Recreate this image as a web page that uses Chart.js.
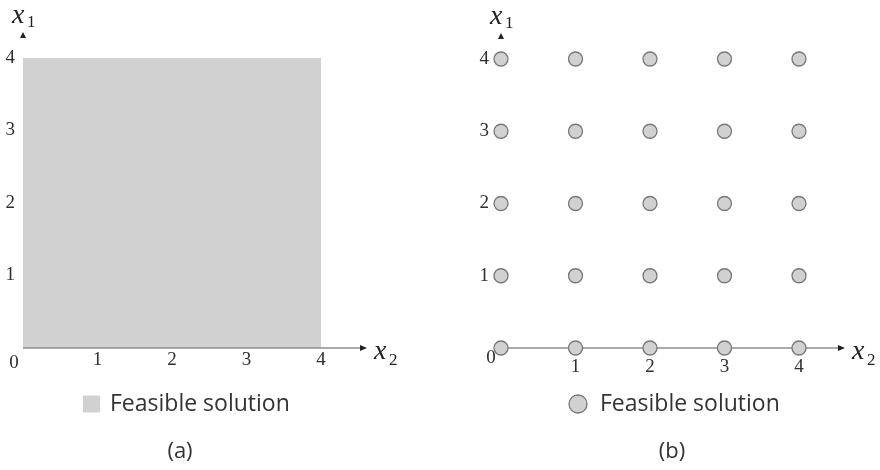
<!DOCTYPE html>
<html>
<head>
<meta charset="utf-8">
<script src="https://cdn.jsdelivr.net/npm/chart.js@4.4.1/dist/chart.umd.min.js"></script>
<style>
  html, body { margin: 0; padding: 0; background: #fff; }
  #wrap { position: relative; width: 880px; height: 470px; }
  .panel { position: absolute; top: 0; width: 440px; height: 470px; }
</style>
</head>
<body>
<div id="wrap">
  <div class="panel" style="left:0"><canvas id="chart-a" width="440" height="470"></canvas></div>
  <div class="panel" style="left:440px"><canvas id="chart-b" width="440" height="470"></canvas></div>
</div>
<script>
const axisTicks = [0, 1, 2, 3, 4];
// top edge of the feasible region in (a), filled down to x1 = 0
const regionX2 = [0, 4];
const regionX1 = [4, 4];
// integer feasible points in (b)
const pointsX2 = [0, 1, 2, 3, 4];
const pointsX1 = [0, 1, 2, 3, 4];
const legendText = "Feasible solution";
const captions = ["(a)", "(b)"];

const serif = "'Liberation Serif', 'DejaVu Serif', serif";
const sans = "'Open Sans', 'Noto Sans', sans-serif";
const tickColor = "#2e2e2e";
const fillGrey = "#d1d1d1";
const edgeGrey = "#777";
const axisGrey = "#8c8c8c";

function scaleOpts(axis, pad, size) {
    return {
        type: "linear",
        min: 0,
        max: 4,
        grid: { display: false, drawTicks: false },
        border: { display: false },
        afterBuildTicks: (s) => {
            s.ticks = axisTicks.map((v) => ({ value: v }));
        },
        ticks: {
            padding: pad,
            autoSkip: false,
            maxRotation: 0,
            color: tickColor,
            font: { family: serif, size: 19 },
            callback: (v) => (v === 0 ? "" : String(v)),
        },
        afterFit: (s) => {
            if (axis === "x") s.height = size;
            else s.width = size;
        },
    };
}

function drawAxisLine(chart) {
    const ctx = chart.ctx;
    const xs = chart.scales.x, ys = chart.scales.y;
    const x0 = xs.getPixelForValue(0), y0 = ys.getPixelForValue(0);
    const tipX = xs.getPixelForValue(4) + 46;
    ctx.save();
    ctx.strokeStyle = axisGrey;
    ctx.lineWidth = 1.5;
    ctx.beginPath();
    ctx.moveTo(x0, y0);
    ctx.lineTo(tipX - 5, y0);
    ctx.stroke();
    ctx.restore();
}

// arrows, axis names, origin label, legend and caption
const decorPlugin = {
    id: "decor",
    beforeDatasetsDraw(chart, args, opts) {
        if (!opts.lineOnTop) drawAxisLine(chart);
    },
    afterDatasetsDraw(chart, args, opts) {
        if (opts.lineOnTop) drawAxisLine(chart);
    },
    afterDraw(chart, args, opts) {
        const ctx = chart.ctx;
        const xs = chart.scales.x, ys = chart.scales.y;
        const x0 = xs.getPixelForValue(0), y0 = ys.getPixelForValue(0);
        const tipX = xs.getPixelForValue(4) + 46;
        const tipY = ys.getPixelForValue(4) - 26;
        ctx.save();
        ctx.fillStyle = "#222";
        ctx.beginPath();
        ctx.moveTo(tipX, y0);
        ctx.lineTo(tipX - 7, y0 - 3);
        ctx.lineTo(tipX - 7, y0 + 3);
        ctx.closePath();
        ctx.fill();
        ctx.beginPath();
        ctx.moveTo(x0, tipY);
        ctx.lineTo(x0 - 3, tipY + 6);
        ctx.lineTo(x0 + 3, tipY + 6);
        ctx.closePath();
        ctx.fill();

        // axis names
        ctx.fillStyle = "#222";
        ctx.textBaseline = "alphabetic";
        ctx.textAlign = "left";
        ctx.font = "italic 28px " + serif;
        ctx.fillText("x", x0 - 11, tipY - 9);
        ctx.fillText("x", tipX + 7, y0 + 11);
        ctx.font = "17px " + serif;
        ctx.fillText("1", x0 + 4, tipY - 5);
        ctx.fillText("2", tipX + 22, y0 + 17);

        // origin
        ctx.fillStyle = tickColor;
        ctx.font = "19px " + serif;
        ctx.textAlign = "center";
        ctx.textBaseline = "middle";
        ctx.fillText("0", x0 + opts.originDx, y0 + opts.originDy);

        // legend
        const ly = 404;
        ctx.fillStyle = fillGrey;
        ctx.strokeStyle = edgeGrey;
        ctx.lineWidth = 1.3;
        if (opts.marker === "square") {
            ctx.fillRect(opts.markerX - 8.5, ly - 8.5, 17, 17);
        } else {
            ctx.beginPath();
            ctx.arc(opts.markerX, ly, 9, 0, Math.PI * 2);
            ctx.fill();
            ctx.stroke();
        }
        ctx.fillStyle = "#333";
        ctx.font = "23px " + sans;
        ctx.textAlign = "left";
        ctx.fillText(legendText, opts.textX, ly);

        // caption
        ctx.font = "22px " + sans;
        ctx.textAlign = "center";
        ctx.fillText(opts.caption, opts.captionX, 452);
        ctx.restore();
    },
};

const baseOptions = (padding, xPad, yPad, yWidth, decor) => ({
    responsive: false,
    animation: false,
    events: [],
    layout: { padding: padding },
    scales: { x: scaleOpts("x", xPad, 30), y: scaleOpts("y", yPad, yWidth) },
    plugins: {
        legend: { display: false },
        tooltip: { enabled: false },
        decor: decor,
    },
});

// (a) continuous region
new Chart(document.getElementById("chart-a"), {
    type: "scatter",
    data: {
        datasets: [
            {
                label: legendText,
                data: regionX2.map((x, i) => ({ x: x, y: regionX1[i] })),
                showLine: true,
                fill: "origin",
                backgroundColor: fillGrey,
                borderWidth: 0,
                pointRadius: 0,
                clip: false,
            },
        ],
    },
    options: baseOptions(
        { left: 5, right: 119, top: 58, bottom: 92 },
        1,
        8,
        18,
        { lineOnTop: true, originDx: -9, originDy: 15, marker: "square", markerX: 91.5, textX: 110, caption: captions[0], captionX: 180 }
    ),
    plugins: [decorPlugin],
});

// (b) integer points
const gridPoints = [];
pointsX1.forEach((y) => {
    pointsX2.forEach((x) => {
        gridPoints.push({ x: x, y: y });
    });
});

new Chart(document.getElementById("chart-b"), {
    type: "scatter",
    data: {
        datasets: [
            {
                label: legendText,
                data: gridPoints,
                pointRadius: 7,
                pointBackgroundColor: fillGrey,
                pointBorderColor: edgeGrey,
                pointBorderWidth: 1.3,
                clip: false,
            },
        ],
    },
    options: baseOptions(
        { left: 5, right: 81, top: 59, bottom: 92 },
        8,
        12,
        56,
        { lineOnTop: false, originDx: -10, originDy: 10, marker: "circle", markerX: 138, textX: 160, caption: captions[1], captionX: 232 }
    ),
    plugins: [decorPlugin],
});
</script>
</body>
</html>
